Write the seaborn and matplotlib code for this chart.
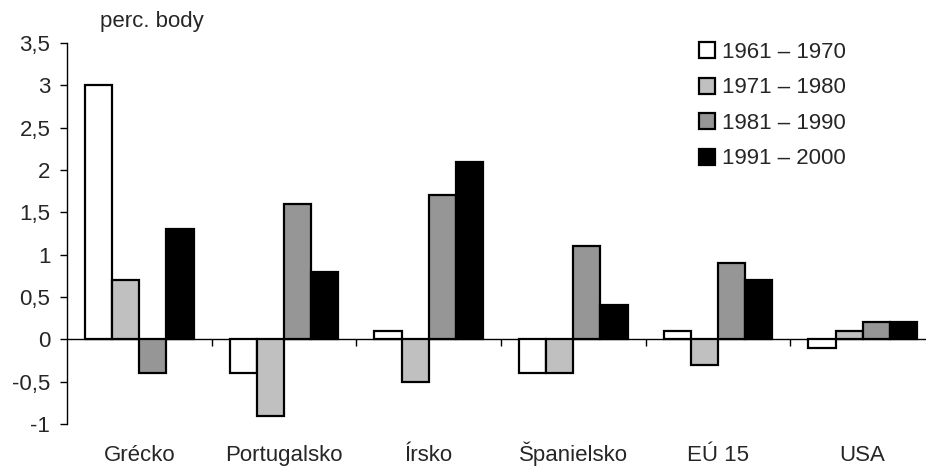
import matplotlib
matplotlib.use("Agg")
import matplotlib.pyplot as plt
import seaborn as sns
import pandas as pd

countries = ["Grécko", "Portugalsko", "Írsko", "Španielsko", "EÚ 15", "USA"]
periods = ["1961 – 1970", "1971 – 1980", "1981 – 1990", "1991 – 2000"]
v_1961_1970 = [3.0, -0.4, 0.1, -0.4, 0.1, -0.1]
v_1971_1980 = [0.7, -0.9, -0.5, -0.4, -0.3, 0.1]
v_1981_1990 = [-0.4, 1.6, 1.7, 1.1, 0.9, 0.2]
v_1991_2000 = [1.3, 0.8, 2.1, 0.4, 0.7, 0.2]
y_ticks = [-1, -0.5, 0, 0.5, 1, 1.5, 2, 2.5, 3, 3.5]
colors = ["#FFFFFF", "#C0C0C0", "#969696", "#000000"]

series = [v_1961_1970, v_1971_1980, v_1981_1990, v_1991_2000]
df = pd.DataFrame(
    [(c, p, v) for p, vals in zip(periods, series) for c, v in zip(countries, vals)],
    columns=["krajina", "obdobie", "hodnota"],
)

sns.set_theme(style="white")
plt.rcParams["font.family"] = ["Liberation Sans", "DejaVu Sans"]
FS = 16

fig = plt.figure(figsize=(9.26, 4.68), dpi=100)
ax = fig.add_axes([67 / 926, 44 / 468, 868 / 926, 381 / 468])

sns.barplot(
    data=df, x="krajina", y="hodnota", hue="obdobie",
    order=countries, hue_order=periods, palette=colors,
    saturation=1, edgecolor="black", linewidth=1.6, width=0.75,
    errorbar=None, ax=ax,
)

ax.set_ylim(-1, 3.5)
ax.set_xlim(-0.5, len(countries) - 0.5)
ax.set_yticks(y_ticks)
ax.set_yticklabels([f"{t:g}".replace(".", ",") for t in y_ticks], fontsize=FS)
ax.tick_params(axis="y", left=True, length=5, width=1, color="black", pad=7)
ax.tick_params(axis="x", bottom=False, length=0, pad=26.5, labelsize=FS)
for lbl in ax.get_xticklabels():
    lbl.set_verticalalignment("baseline")
ax.set_xlabel("")
ax.set_ylabel("")

for side in ["top", "right", "bottom"]:
    ax.spines[side].set_visible(False)
ax.spines["left"].set_color("black")
ax.spines["left"].set_linewidth(1)

# zero line with category separator ticks
ax.axhline(0, color="black", linewidth=1, zorder=0.5, clip_on=False)
ax.vlines([i + 0.5 for i in range(len(countries) - 1)], -0.08, 0,
          color="black", linewidth=1)

ax.text(100 / 926, 1 - 22 / 468, "perc. body", transform=fig.transFigure,
        fontsize=FS, va="center", ha="left")

handles, labels = ax.get_legend_handles_labels()
ax.legend(handles, labels, loc="upper left",
          bbox_to_anchor=(699 / 926, 1 - 42 / 468), bbox_transform=fig.transFigure,
          frameon=False, fontsize=FS, handlelength=0.73, handleheight=0.73,
          handletextpad=0.3, labelspacing=0.65, borderpad=0, borderaxespad=0)

fig.savefig("out.png", dpi=100)
